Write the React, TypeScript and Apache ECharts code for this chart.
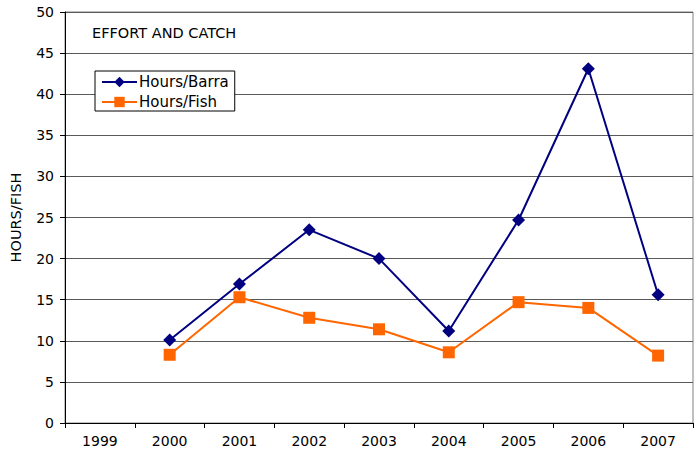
import React, { useEffect, useRef } from "react";
import * as echarts from "echarts";

const years = ["1999", "2000", "2001", "2002", "2003", "2004", "2005", "2006", "2007"];
const hoursBarra: (number | null)[] = [null, 10.1, 16.9, 23.5, 20.0, 11.2, 24.7, 43.1, 15.6];
const hoursFish: (number | null)[] = [null, 8.3, 15.3, 12.8, 11.4, 8.6, 14.7, 14.0, 8.2];

const FONT = "DejaVu Sans";

export default function App() {
  const ref = useRef<HTMLDivElement>(null);
  useEffect(() => {
    if (!ref.current) return;
    const chart = echarts.init(ref.current, null, { renderer: "svg" });
    chart.setOption({
      animation: false,
      backgroundColor: "#ffffff",
      textStyle: { fontFamily: FONT },
      title: {
        text: "EFFORT AND CATCH",
        left: 87,
        top: 20,
        textStyle: { fontFamily: FONT, fontSize: 14.5, fontWeight: "normal", color: "#000" },
      },
      legend: {
        orient: "vertical",
        left: 95,
        top: 71,
        backgroundColor: "#fff",
        borderColor: "#000",
        borderWidth: 1,
        borderRadius: 0,
        padding: [3, 6, 1, 6],
        itemGap: 4,
        itemWidth: 35,
        itemHeight: 13,
        textStyle: {
          fontFamily: FONT,
          fontSize: 15,
          lineHeight: 16,
          color: "#000",
          padding: [0, 0, 0, -3],
        },
        data: ["Hours/Barra", "Hours/Fish"],
      },
      grid: {
        left: 63,
        right: 3,
        top: 12,
        bottom: 29,
        show: true,
        borderColor: "#808080",
        borderWidth: 1,
        backgroundColor: "transparent",
      },
      xAxis: {
        type: "category",
        data: years,
        boundaryGap: true,
        axisLine: { lineStyle: { color: "#000", width: 1 } },
        axisTick: { show: true, length: 5, lineStyle: { color: "#000" } },
        axisLabel: { fontFamily: FONT, fontSize: 14, color: "#000", margin: 11 },
        splitLine: { show: false },
      },
      yAxis: {
        type: "value",
        min: 0,
        max: 50,
        interval: 5,
        name: "HOURS/FISH",
        nameLocation: "middle",
        nameGap: 42,
        nameRotate: 90,
        nameTextStyle: { fontFamily: FONT, fontSize: 14.5, color: "#000" },
        axisLine: { show: true, lineStyle: { color: "#000", width: 1 } },
        axisTick: { show: true, length: 5, lineStyle: { color: "#000" } },
        axisLabel: { fontFamily: FONT, fontSize: 14, color: "#000", margin: 11 },
        splitLine: { show: true, lineStyle: { color: "#5a5a5a", width: 1 } },
      },
      series: [
        {
          name: "Hours/Barra",
          type: "line",
          data: hoursBarra,
          symbol: "diamond",
          symbolSize: 13,
          itemStyle: { color: "#000080" },
          lineStyle: { color: "#000080", width: 2 },
          connectNulls: false,
        },
        {
          name: "Hours/Fish",
          type: "line",
          data: hoursFish,
          symbol: "rect",
          symbolSize: 12,
          itemStyle: { color: "#FF6600" },
          lineStyle: { color: "#FF6600", width: 2 },
          connectNulls: false,
        },
      ],
    });
    return () => chart.dispose();
  }, []);
  return <div ref={ref} style={{ width: 696, height: 452, position: "absolute", left: 0, top: 0 }} />;
}
